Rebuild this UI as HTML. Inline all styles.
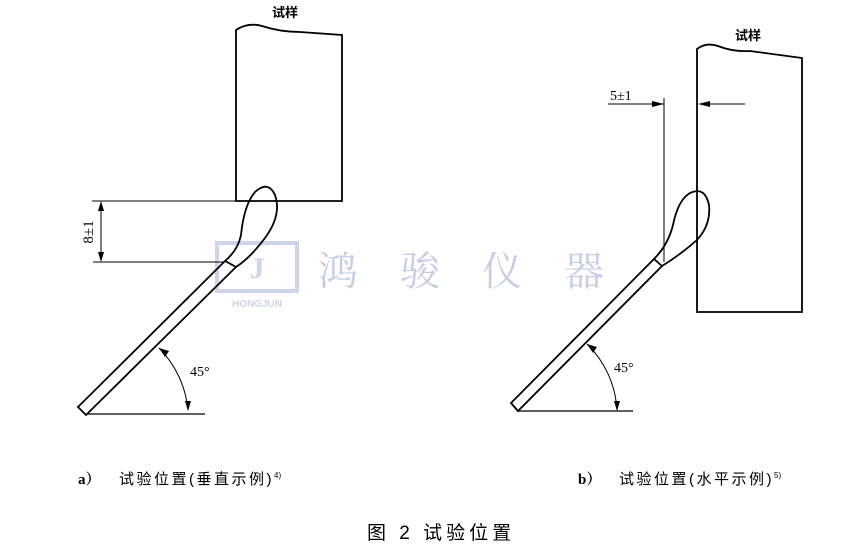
<!DOCTYPE html>
<html><head><meta charset="utf-8"><style>
html,body{margin:0;padding:0;background:#fff;}
body{width:847px;height:546px;overflow:hidden;position:relative;}
svg{position:absolute;left:0;top:0;}
.t{font-family:"Liberation Serif","Noto Serif CJK SC",serif;}
.c{font-family:"Liberation Sans","Noto Sans CJK SC",sans-serif;}
</style></head><body>
<svg width="847" height="546" viewBox="0 0 847 546">
<!-- watermark -->
<g opacity="0.45">
<rect x="217" y="243" width="80" height="48" fill="none" stroke="#8fa3cf" stroke-width="4"/>
<text x="257" y="278" text-anchor="middle" font-size="30" fill="#8fa3cf" class="t" font-weight="bold">J</text>
<text x="257" y="307" text-anchor="middle" font-size="10" fill="#8fa3cf" class="c" font-weight="bold">HONGJUN</text>
<text x="318" y="285" font-size="40" fill="#7f94c6" class="t" letter-spacing="42">鸿骏仪器</text>
</g>
<g fill="none" stroke="#000" stroke-width="1.8">
<path d="M236,201 V30 Q248,22 262,26 Q280,32 300,32 L342,35 V201 Z"/>
<line x1="92" y1="201" x2="236" y2="201" stroke-width="1"/>
<line x1="93" y1="262" x2="225" y2="262" stroke-width="1"/>
<line x1="101" y1="204" x2="101" y2="259" stroke-width="1"/>
<path d="M225,261 L78,407 L86,415 L236,267 Z"/>
<path d="M225,261 Q238,250 241,235 Q244,205 255,192 Q268,180 275,195 Q282,215 265,238 Q250,258 236,267"/>
<line x1="86" y1="414" x2="205" y2="414" stroke-width="1.2"/>
<path d="M159,348 A102,102 0 0 1 188,410" stroke-width="1"/>
<path d="M697,312 V49 Q706,42 718,46 Q733,52 750,51 L802,58 V312 Z"/>
<line x1="608" y1="104" x2="664" y2="104" stroke-width="1"/>
<line x1="664" y1="98" x2="664" y2="262" stroke-width="1"/>
<line x1="700" y1="104" x2="745" y2="104" stroke-width="1"/>
<path d="M654,259 L511,403 L518,411 L662,266 Z"/>
<path d="M654,259 Q668,245 673,225 Q678,200 690,193 Q705,186 709,205 Q711,225 697,240 Q680,255 662,266"/>
<line x1="518" y1="411" x2="633" y2="411" stroke-width="1.2"/>
<path d="M587,344 A100,100 0 0 1 617,410" stroke-width="1"/>
</g>
<g fill="#000">
<path d="M101,201 L98,211 L104,211 Z"/>
<path d="M101,262 L98,252 L104,252 Z"/>
<path d="M664,104 L652,101 L652,107 Z"/>
<path d="M698,104 L710,101 L710,107 Z"/>
<path d="M159,348 L165,357 L169,351 Z"/>
<path d="M188,411 L185,401 L191,401 Z"/>
<path d="M587,344 L593,353 L597,347 Z"/>
<path d="M617,411 L614,401 L620,401 Z"/>
</g>
<g class="t" fill="#000">
<text x="272" y="17" font-size="13" class="c" font-weight="bold">试样</text>
<text x="735" y="40" font-size="13" class="c" font-weight="bold">试样</text>
<text transform="translate(93,232) rotate(-90)" text-anchor="middle" font-size="15">8±1</text>
<text x="610" y="100" font-size="14">5±1</text>
<text x="190" y="376" font-size="14">45°</text>
<text x="614" y="372" font-size="14">45°</text>
<text x="78" y="484" font-size="15" font-weight="bold">a）</text>
<text x="119" y="484" font-size="15" class="c" letter-spacing="2.5">试验位置(垂直示例)<tspan font-size="8" dy="-6" letter-spacing="0">4)</tspan></text>
<text x="578" y="484" font-size="15" font-weight="bold">b）</text>
<text x="619" y="484" font-size="15" class="c" letter-spacing="2.5">试验位置(水平示例)<tspan font-size="8" dy="-6" letter-spacing="0">5)</tspan></text>
<text x="367" y="539" font-size="19" class="c" letter-spacing="4">图 2  试验位置</text>
</g>
</svg>
</body></html>
